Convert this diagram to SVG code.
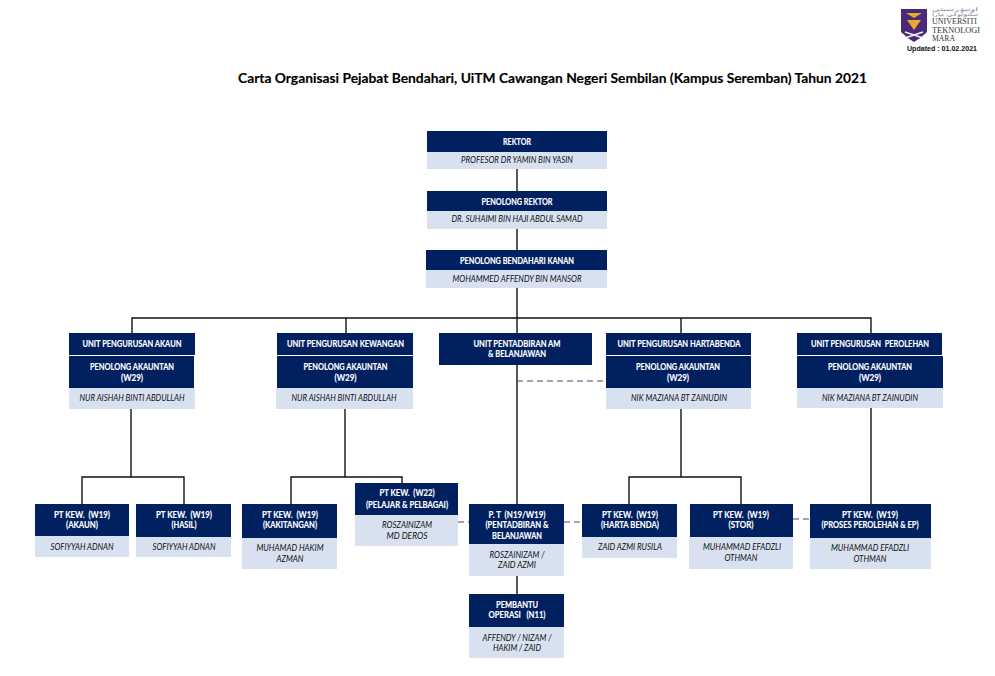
<svg xmlns="http://www.w3.org/2000/svg" width="995" height="676" viewBox="0 0 995 676">
<style>
.d{fill:#002060}.l{fill:#d8e1f0}
text{text-anchor:middle;font-family:Lato,"Liberation Sans",sans-serif}
.h{font-size:9px;font-weight:700;fill:#fff;stroke:#fff;stroke-width:.15}
.n{font-size:9px;font-style:italic;fill:#111}
.c{fill:none;stroke:#111;stroke-width:1.4}
.p{fill:none;stroke:#5a3a70;stroke-width:1.2;stroke-dasharray:6 4}
.s{font-family:"Liberation Serif",serif;font-size:8px;fill:#333}
.j{font-family:"DejaVu Sans",sans-serif;font-size:5px;fill:#8a7a9a}
</style>
<rect width="995" height="676" fill="#fff"/>
<text id="title" x="552.5" y="83" textLength="629" lengthAdjust="spacingAndGlyphs" style="font-size:14px;font-weight:700;fill:#000;stroke:#000;stroke-width:.15">Carta Organisasi Pejabat Bendahari, UiTM Cawangan Negeri Sembilan (Kampus Seremban) Tahun 2021</text>

<g id="logo">
<path d="M901 9H927V32Q921 38 914 42Q907 38 901 32Z" fill="#4a2a78"/>
<path d="M906 13H922L914 18Z" fill="#e8a92c"/>
<path d="M907 20H921L914 30Z" fill="#e8a92c"/>
<path d="M905 32L923 38M923 32L905 38" stroke="#f2f0f4" stroke-width="1.6" fill="none"/>
<text class="j" x="955" y="11" textLength="46" lengthAdjust="spacingAndGlyphs" direction="rtl">اونيۏرسيتي</text>
<text class="j" x="955" y="16" textLength="46" lengthAdjust="spacingAndGlyphs" direction="rtl">تيكنولوݢي مارا</text>
<text class="s" x="954.5" y="24" textLength="45" lengthAdjust="spacingAndGlyphs">UNIVERSITI</text>
<text class="s" x="956" y="32.5" textLength="48" lengthAdjust="spacingAndGlyphs">TEKNOLOGI</text>
<text class="s" x="943.5" y="41" textLength="23" lengthAdjust="spacingAndGlyphs">MARA</text>
<text x="942" y="51" textLength="70" lengthAdjust="spacingAndGlyphs" style="font-family:'Liberation Sans',sans-serif;font-size:7.5px;font-weight:700;fill:#111">Updated : 01.02.2021</text>
</g>

<g id="connectors">
<path class="c" d="M517 169V191M517 229V250M517 288V318M132 333V318H871V333M346 318V333M517 318V333M681 318V333"/>
<path class="c" d="M517 365V504M517 576V594"/>
<path class="c" d="M131 409V477M82 504V477H184V504"/>
<path class="c" d="M345 409V477M291 504V477H402V483"/>
<path class="c" d="M681 409V477M629 504V477H741V504"/>
<path class="c" d="M871 408V504"/>
<path class="p" d="M517 381H606M458 522H469M564 522H582M793 519H810"/>
</g>

<g id="n-rektor"><rect class="d" x="427" y="131" width="180" height="21"/><rect class="l" x="427" y="152" width="180" height="17"/>
<text class="h" x="517" y="145" textLength="28" lengthAdjust="spacingAndGlyphs">REKTOR</text><text class="n" x="517" y="163" textLength="112" lengthAdjust="spacingAndGlyphs">PROFESOR DR YAMIN BIN YASIN</text></g>

<g id="n-penolong-rektor"><rect class="d" x="427" y="191" width="180" height="20"/><rect class="l" x="427" y="211" width="180" height="18"/>
<text class="h" x="517" y="205" textLength="71" lengthAdjust="spacingAndGlyphs">PENOLONG REKTOR</text><text class="n" x="517" y="222" textLength="131" lengthAdjust="spacingAndGlyphs">DR. SUHAIMI BIN HAJI ABDUL SAMAD</text></g>

<g id="n-bendahari"><rect class="d" x="426" y="250" width="181" height="20"/><rect class="l" x="426" y="270" width="181" height="18"/>
<text class="h" x="517" y="264" textLength="114" lengthAdjust="spacingAndGlyphs">PENOLONG BENDAHARI KANAN</text><text class="n" x="517" y="282" textLength="129" lengthAdjust="spacingAndGlyphs">MOHAMMED AFFENDY BIN MANSOR</text></g>

<g id="n-akaun"><rect class="d" x="69" y="333" width="126" height="22"/><rect class="d" x="69" y="356" width="125" height="32"/><rect class="l" x="69" y="388" width="126" height="21"/>
<text class="h" x="132" y="347" textLength="99" lengthAdjust="spacingAndGlyphs">UNIT PENGURUSAN AKAUN</text><text class="h" x="132" y="370" textLength="84" lengthAdjust="spacingAndGlyphs">PENOLONG AKAUNTAN</text><text class="h" x="132" y="381" textLength="22" lengthAdjust="spacingAndGlyphs">(W29)</text><text class="n" x="132" y="401" textLength="105" lengthAdjust="spacingAndGlyphs">NUR AISHAH BINTI ABDULLAH</text></g>

<g id="n-kewangan"><rect class="d" x="277" y="333" width="136" height="22"/><rect class="d" x="277" y="356" width="136" height="32"/><rect class="l" x="276" y="388" width="137" height="21"/>
<text class="h" x="345.5" y="347" textLength="117" lengthAdjust="spacingAndGlyphs">UNIT PENGURUSAN KEWANGAN</text><text class="h" x="345.5" y="370" textLength="84" lengthAdjust="spacingAndGlyphs">PENOLONG AKAUNTAN</text><text class="h" x="345.5" y="381" textLength="22" lengthAdjust="spacingAndGlyphs">(W29)</text><text class="n" x="344" y="401" textLength="105" lengthAdjust="spacingAndGlyphs">NUR AISHAH BINTI ABDULLAH</text></g>

<g id="n-pentadbiran"><rect class="d" x="439" y="333" width="153" height="32"/>
<text class="h" x="517" y="347" textLength="87" lengthAdjust="spacingAndGlyphs">UNIT PENTADBIRAN AM</text><text class="h" x="517" y="357" textLength="58" lengthAdjust="spacingAndGlyphs">&amp; BELANJAWAN</text></g>

<g id="n-hartabenda"><rect class="d" x="606" y="333" width="145" height="22"/><rect class="d" x="606" y="356" width="145" height="32"/><rect class="l" x="606" y="388" width="145" height="21"/>
<text class="h" x="679" y="347" textLength="123" lengthAdjust="spacingAndGlyphs">UNIT PENGURUSAN HARTABENDA</text><text class="h" x="678" y="370" textLength="84" lengthAdjust="spacingAndGlyphs">PENOLONG AKAUNTAN</text><text class="h" x="678" y="381" textLength="22" lengthAdjust="spacingAndGlyphs">(W29)</text><text class="n" x="679" y="401" textLength="96" lengthAdjust="spacingAndGlyphs">NIK MAZIANA BT ZAINUDIN</text></g>

<g id="n-perolehan"><rect class="d" x="797" y="333" width="145" height="22"/><rect class="d" x="797" y="356" width="146" height="32"/><rect class="l" x="797" y="388" width="146" height="20"/>
<text class="h" x="870" y="347" textLength="118" lengthAdjust="spacingAndGlyphs" xml:space="preserve">UNIT PENGURUSAN  PEROLEHAN</text><text class="h" x="870" y="370" textLength="84" lengthAdjust="spacingAndGlyphs">PENOLONG AKAUNTAN</text><text class="h" x="870" y="381" textLength="22" lengthAdjust="spacingAndGlyphs">(W29)</text><text class="n" x="870" y="401" textLength="96" lengthAdjust="spacingAndGlyphs">NIK MAZIANA BT ZAINUDIN</text></g>

<g id="n-pt-akaun"><rect class="d" x="35" y="504" width="94" height="32"/><rect class="l" x="35" y="536" width="94" height="21"/>
<text class="h" x="82" y="518" textLength="56" lengthAdjust="spacingAndGlyphs" xml:space="preserve">PT KEW.  (W19)</text><text class="h" x="82" y="528" textLength="32" lengthAdjust="spacingAndGlyphs">(AKAUN)</text><text class="n" x="82" y="550" textLength="63" lengthAdjust="spacingAndGlyphs">SOFIYYAH ADNAN</text></g>

<g id="n-pt-hasil"><rect class="d" x="136" y="504" width="95" height="33"/><rect class="l" x="136" y="537" width="95" height="20"/>
<text class="h" x="184" y="518" textLength="56" lengthAdjust="spacingAndGlyphs" xml:space="preserve">PT KEW.  (W19)</text><text class="h" x="184" y="528" textLength="25" lengthAdjust="spacingAndGlyphs">(HASIL)</text><text class="n" x="184" y="550" textLength="63" lengthAdjust="spacingAndGlyphs">SOFIYYAH ADNAN</text></g>

<g id="n-pt-kakitangan"><rect class="d" x="242" y="504" width="95" height="34"/><rect class="l" x="242" y="538" width="95" height="31"/>
<text class="h" x="290" y="518" textLength="56" lengthAdjust="spacingAndGlyphs" xml:space="preserve">PT KEW.  (W19)</text><text class="h" x="290" y="528" textLength="54" lengthAdjust="spacingAndGlyphs">(KAKITANGAN)</text><text class="n" x="290" y="551" textLength="67" lengthAdjust="spacingAndGlyphs">MUHAMAD HAKIM</text><text class="n" x="290" y="562" textLength="27" lengthAdjust="spacingAndGlyphs">AZMAN</text></g>

<g id="n-pt-pelajar"><rect class="d" x="355" y="483" width="103" height="32"/><rect class="l" x="355" y="515" width="103" height="31"/>
<text class="h" x="407" y="496" textLength="55" lengthAdjust="spacingAndGlyphs" xml:space="preserve">PT KEW.  (W22)</text><text class="h" x="407" y="508" textLength="82" lengthAdjust="spacingAndGlyphs">(PELAJAR &amp; PELBAGAI)</text><text class="n" x="407" y="528" textLength="50" lengthAdjust="spacingAndGlyphs">ROSZAINIZAM</text><text class="n" x="407" y="539" textLength="41" lengthAdjust="spacingAndGlyphs">MD DEROS</text></g>

<g id="n-pt-pentadbiran"><rect class="d" x="469" y="504" width="95" height="40"/><rect class="l" x="469" y="544" width="95" height="32"/>
<text class="h" x="517" y="518" textLength="57" lengthAdjust="spacingAndGlyphs" xml:space="preserve">P. T  (N19/W19)</text><text class="h" x="517" y="528" textLength="63" lengthAdjust="spacingAndGlyphs">(PENTADBIRAN &amp;</text><text class="h" x="517" y="539" textLength="50" lengthAdjust="spacingAndGlyphs">BELANJAWAN</text><text class="n" x="517" y="558" textLength="55" lengthAdjust="spacingAndGlyphs">ROSZAINIZAM /</text><text class="n" x="517" y="568" textLength="38" lengthAdjust="spacingAndGlyphs">ZAID AZMI</text></g>

<g id="n-pembantu"><rect class="d" x="469" y="594" width="95" height="33"/><rect class="l" x="469" y="627" width="95" height="31"/>
<text class="h" x="517" y="608" textLength="42" lengthAdjust="spacingAndGlyphs">PEMBANTU</text><text class="h" x="517" y="618" textLength="57" lengthAdjust="spacingAndGlyphs" xml:space="preserve">OPERASI   (N11)</text><text class="n" x="517" y="641" textLength="69" lengthAdjust="spacingAndGlyphs">AFFENDY / NIZAM /</text><text class="n" x="517" y="651" textLength="48" lengthAdjust="spacingAndGlyphs">HAKIM / ZAID</text></g>

<g id="n-pt-harta"><rect class="d" x="582" y="504" width="95" height="33"/><rect class="l" x="582" y="537" width="95" height="21"/>
<text class="h" x="630" y="518" textLength="56" lengthAdjust="spacingAndGlyphs" xml:space="preserve">PT KEW.  (W19)</text><text class="h" x="630" y="528" textLength="58" lengthAdjust="spacingAndGlyphs">(HARTA BENDA)</text><text class="n" x="630" y="550" textLength="64" lengthAdjust="spacingAndGlyphs">ZAID AZMI RUSILA</text></g>

<g id="n-pt-stor"><rect class="d" x="690" y="504" width="103" height="33"/><rect class="l" x="689" y="537" width="104" height="32"/>
<text class="h" x="741" y="518" textLength="56" lengthAdjust="spacingAndGlyphs" xml:space="preserve">PT KEW.  (W19)</text><text class="h" x="741" y="528" textLength="25" lengthAdjust="spacingAndGlyphs">(STOR)</text><text class="n" x="742" y="550" textLength="78" lengthAdjust="spacingAndGlyphs">MUHAMMAD EFADZLI</text><text class="n" x="741" y="561" textLength="33" lengthAdjust="spacingAndGlyphs">OTHMAN</text></g>

<g id="n-pt-proses"><rect class="d" x="810" y="504" width="121" height="34"/><rect class="l" x="810" y="538" width="121" height="31"/>
<text class="h" x="870" y="518" textLength="56" lengthAdjust="spacingAndGlyphs" xml:space="preserve">PT KEW.  (W19)</text><text class="h" x="870" y="528" textLength="97" lengthAdjust="spacingAndGlyphs">(PROSES PEROLEHAN &amp; EP)</text><text class="n" x="870" y="551" textLength="78" lengthAdjust="spacingAndGlyphs">MUHAMMAD EFADZLI</text><text class="n" x="870" y="562" textLength="33" lengthAdjust="spacingAndGlyphs">OTHMAN</text></g>
</svg>
